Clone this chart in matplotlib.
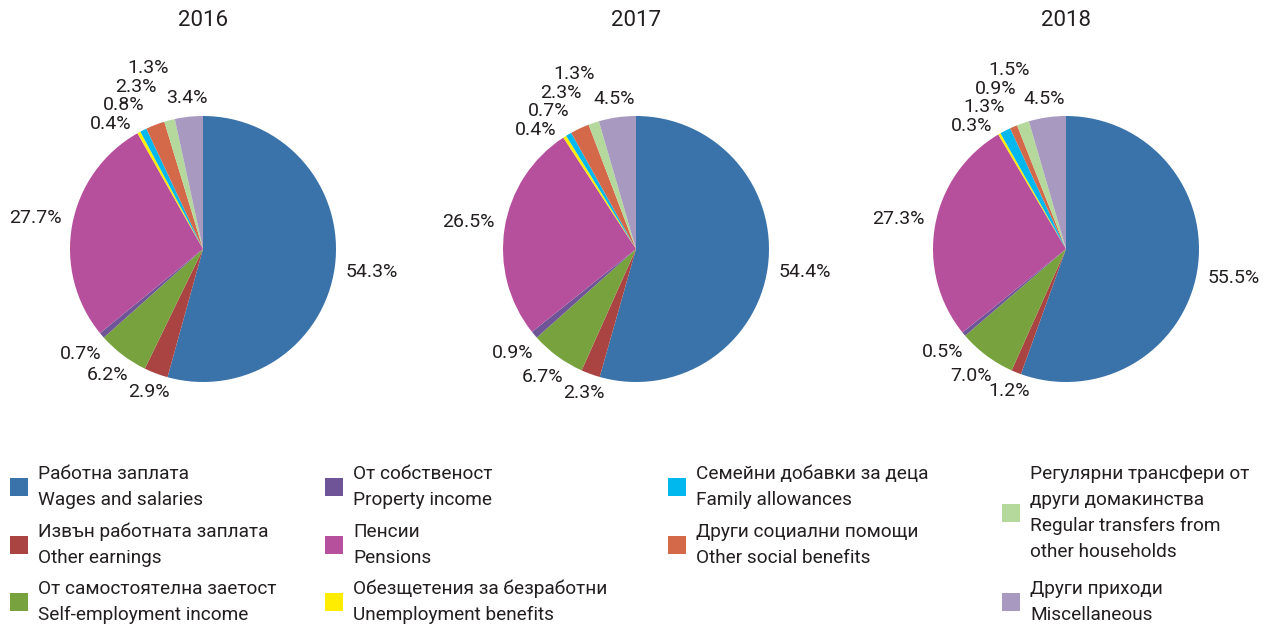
import numpy as np
import matplotlib
matplotlib.use("Agg")
from matplotlib import pyplot as plt
from matplotlib.patches import Rectangle

plt.rcParams["font.family"] = ["Roboto", "DejaVu Sans"]

years = ["2016", "2017", "2018"]

# shares in %, order: wages, other earnings, self-employment, property, pensions,
# unemployment, family allowances, other social, regular transfers, miscellaneous
shares_2016 = [54.3, 2.9, 6.2, 0.7, 27.7, 0.4, 0.8, 2.3, 1.3, 3.4]
shares_2017 = [54.4, 2.3, 6.7, 0.9, 26.5, 0.4, 0.7, 2.3, 1.3, 4.5]
shares_2018 = [55.5, 1.2, 7.0, 0.5, 27.3, 0.3, 1.3, 0.9, 1.5, 4.5]
all_shares = [shares_2016, shares_2017, shares_2018]

colors = ["#3a73a9", "#a94442", "#77a23d", "#6f5597", "#b6509c",
          "#ffed00", "#00b8ee", "#d4694a", "#b5d99c", "#a799bf"]

legend_labels = [
    "Работна заплата\nWages and salaries",
    "Извън работната заплата\nOther earnings",
    "От самостоятелна заетост\nSelf-employment income",
    "От собственост\nProperty income",
    "Пенсии\nPensions",
    "Обезщетения за безработни\nUnemployment benefits",
    "Семейни добавки за деца\nFamily allowances",
    "Други социални помощи\nOther social benefits",
    "Регулярни трансфери от\nдруги домакинства\nRegular transfers from\nother households",
    "Други приходи\nMiscellaneous",
]

W, H = 1273, 627
R = 133  # pie radius in px
centers_x = [203, 636, 1066]
center_y = 249
text_color = "#231f20"

fig = plt.figure(figsize=(W / 100, H / 100), dpi=100)

# label radius for the bigger slices (data units, radius = 1)
label_r = {0: 1.28, 1: 1.15, 2: 1.19, 3: 1.21, 4: 1.28, 9: 1.14}
stacked = [5, 6, 7, 8]

for year, shares, cx in zip(years, all_shares, centers_x):
    half = 200
    ax = fig.add_axes([(cx - half) / W, 1 - (center_y + half) / H, 2 * half / W, 2 * half / H])
    ax.pie(shares, colors=colors, startangle=90, counterclock=False, radius=1,
           wedgeprops=dict(linewidth=0))
    ax.set_xlim(-half / R, half / R)
    ax.set_ylim(-half / R, half / R)
    ax.axis("off")

    cum = np.cumsum([0] + shares[:-1])
    mids = 90 - 360 * (cum + np.array(shares) / 2) / 100

    for i, r in label_r.items():
        a = np.deg2rad(mids[i])
        ax.text(r * np.cos(a), r * np.sin(a), f"{shares[i]:.1f}%", ha="center", va="center",
                fontsize=14, color=text_color)

    # small slices: stacked labels going up and to the right
    a0 = np.deg2rad(mids[stacked[0]] + 7.5)
    x0, y0 = 1.17 * np.cos(a0), 1.17 * np.sin(a0)
    for k, i in enumerate(stacked):
        ax.text(x0 + k * 12.5 / R, y0 + k * 18.5 / R, f"{shares[i]:.1f}%", ha="center",
                va="center", fontsize=14, color=text_color)

    fig.text(cx / W, 1 - 20 / H, year, ha="center", va="center", fontsize=16, color=text_color)

# legend drawn in pixel coordinates
legend_x = [10, 325, 668, 1002]
legend_rows = [(0, 0, 487), (1, 0, 545), (2, 0, 602),
               (3, 1, 487), (4, 1, 545), (5, 1, 602),
               (6, 2, 487), (7, 2, 545),
               (8, 3, 513), (9, 3, 602)]
box = 18
for i, col, yc in legend_rows:
    x = legend_x[col]
    fig.patches.append(Rectangle((x / W, 1 - (yc + box / 2) / H), box / W, box / H,
                                 transform=fig.transFigure, facecolor=colors[i],
                                 edgecolor="none"))
    fig.text((x + 28) / W, 1 - yc / H, legend_labels[i], ha="left", va="center",
             fontsize=13.7, color=text_color, linespacing=1.55)

fig.savefig("out.png", dpi=100)
